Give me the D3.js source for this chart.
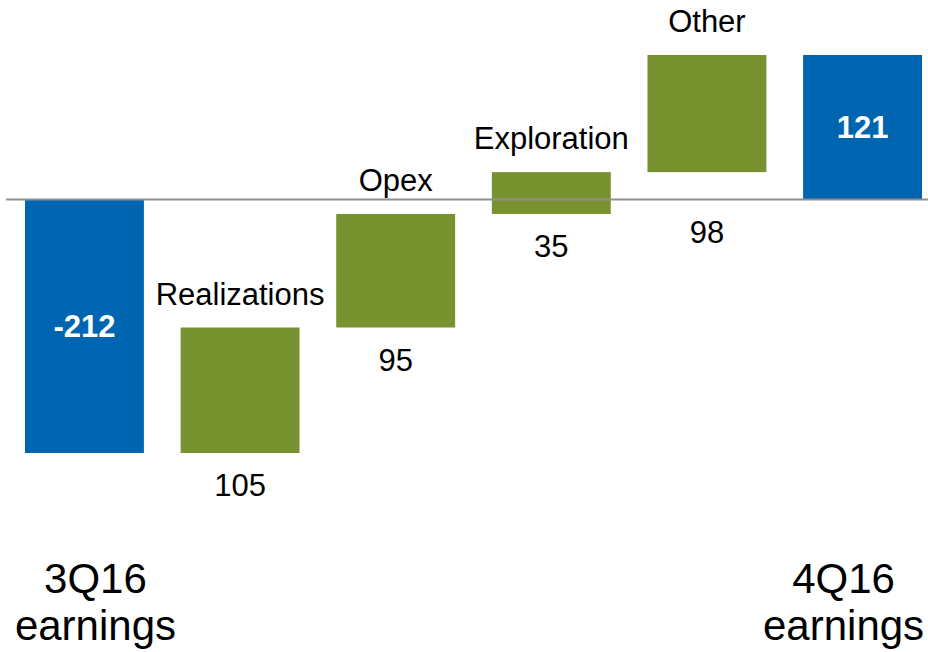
<!DOCTYPE html>
<html>
<head>
<meta charset="utf-8">
<script src="https://cdn.jsdelivr.net/npm/d3@7"></script>
<style>
  html, body { margin: 0; padding: 0; background: #ffffff; }
  svg { display: block; font-family: "Liberation Sans", Arial, sans-serif; }
</style>
</head>
<body>
<svg id="chart" width="928" height="652"></svg>
<script>
// Earnings bridge, 3Q16 to 4Q16 ($ millions)
const categories = ["3Q16 earnings", "Realizations", "Opex", "Exploration", "Other", "4Q16 earnings"];
const kinds = ["total", "delta", "delta", "delta", "delta", "total"];
const values = [-212, 105, 95, 35, 98, 121];
const valueLabels = ["-212", "105", "95", "35", "98", "121"];
const axisLabels = [["3Q16", "earnings"], ["4Q16", "earnings"]];

const W = 928, H = 652;
const blue = "#0065B0", green = "#78922F";

// Running totals give each bar its start and end
let running = 0;
const bars = categories.map((c, i) => {
  let lo, hi;
  if (kinds[i] === "total") {
    running = values[i];
    lo = Math.min(0, values[i]); hi = Math.max(0, values[i]);
  } else {
    const start = running;
    running += values[i];
    lo = Math.min(start, running); hi = Math.max(start, running);
  }
  return { name: c, kind: kinds[i], value: values[i], label: valueLabels[i], lo, hi };
});

const x = d3.scaleBand()
  .domain(categories)
  .range([25, 922])
  .paddingInner(0.236)
  .paddingOuter(0);

const y = d3.scaleLinear()
  .domain([-212, 121])
  .range([453, 55]);

const svg = d3.select("#chart");
const y0 = y(0);

svg.append("g").selectAll("rect")
  .data(bars)
  .join("rect")
  .attr("x", d => x(d.name))
  .attr("width", x.bandwidth())
  .attr("y", d => y(d.hi))
  .attr("height", d => y(d.lo) - y(d.hi))
  .attr("fill", d => d.kind === "total" ? blue : green);

// Zero baseline
svg.append("line")
  .attr("x1", 6).attr("x2", W)
  .attr("y1", y0).attr("y2", y0)
  .attr("stroke", "#8f8f8f")
  .attr("stroke-width", 2);

const deltas = bars.filter(d => d.kind === "delta");

// Category names above each change bar
svg.append("g").selectAll("text")
  .data(deltas)
  .join("text")
  .attr("x", d => x(d.name) + x.bandwidth() / 2)
  .attr("y", d => y(d.hi) - 23)
  .attr("text-anchor", "middle")
  .attr("font-size", 31)
  .attr("fill", "#000")
  .text(d => d.name);

// Change amounts below each change bar
svg.append("g").selectAll("text")
  .data(deltas)
  .join("text")
  .attr("x", d => x(d.name) + x.bandwidth() / 2)
  .attr("y", d => Math.max(y(d.lo), y0) + 43)
  .attr("text-anchor", "middle")
  .attr("font-size", 31)
  .attr("fill", "#000")
  .text(d => d.label);

// Totals inside the blue bars
svg.append("g").selectAll("text")
  .data(bars.filter(d => d.kind === "total"))
  .join("text")
  .attr("x", d => x(d.name) + x.bandwidth() / 2)
  .attr("y", d => (y(d.lo) + y(d.hi)) / 2 + 11)
  .attr("text-anchor", "middle")
  .attr("font-size", 31)
  .attr("font-weight", "bold")
  .attr("fill", "#fff")
  .text(d => d.label);

// Period labels along the bottom
const ends = [
  { cat: categories[0], lines: axisLabels[0], dx: 11 },
  { cat: categories[5], lines: axisLabels[1], dx: -19 }
];
ends.forEach(e => {
  const t = svg.append("text")
    .attr("text-anchor", "middle")
    .attr("font-size", 42)
    .attr("fill", "#000");
  e.lines.forEach((ln, k) => {
    t.append("tspan")
      .attr("x", x(e.cat) + x.bandwidth() / 2 + e.dx)
      .attr("y", 593 + k * 47)
      .text(ln);
  });
});
</script>
</body>
</html>
